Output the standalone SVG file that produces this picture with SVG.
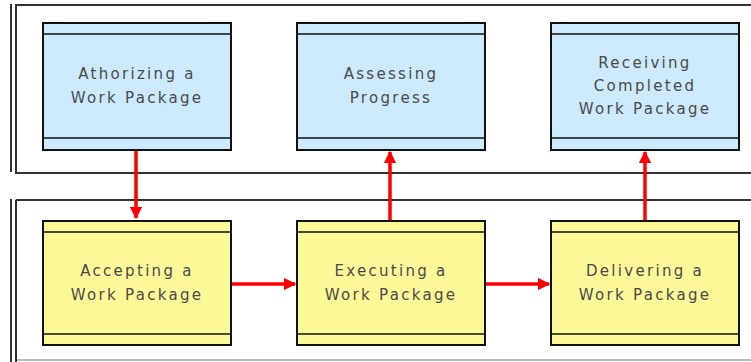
<svg xmlns="http://www.w3.org/2000/svg" width="751" height="362" viewBox="0 0 751 362">
<style>
.frame{fill:none;stroke:#333;stroke-width:2}
.box{stroke:#111;stroke-width:2}
.band{stroke:#111;stroke-width:1.5;fill:none}
.blue{fill:#cdeafc}
.yellow{fill:#fdf999}
.lbl{font-family:"DejaVu Sans",Verdana,sans-serif;font-size:15px;letter-spacing:2.3px;fill:#4a4a4a;text-anchor:middle}
.conn{stroke:#ff0000;stroke-width:3.5;fill:none}
</style>
<defs>
<marker id="ah" viewBox="0 0 10 10" refX="9" refY="5" markerWidth="3.6" markerHeight="3.6" orient="auto" markerUnits="strokeWidth">
<path d="M0,0 L10,5 L0,10 Z" fill="#ff0000"/>
</marker>
</defs>
<rect width="751" height="362" fill="#fff"/>
<g id="laneTop">
<line x1="11" y1="4" x2="11" y2="172" class="frame"/>
<path d="M760,5 H16 V173 H760" class="frame"/>
</g>
<g id="laneBottom">
<line x1="11" y1="199" x2="11" y2="362" class="frame"/>
<path d="M760,200 H16 V360 H760" class="frame" style="stroke:#bbb"/>
<line x1="16" y1="200" x2="760" y2="200" class="frame"/>
<line x1="16" y1="200" x2="16" y2="362" class="frame"/>
</g>
<g id="n1">
<rect x="43" y="23" width="188" height="127" class="box blue"/>
<path d="M43,34 H231 M43,138 H231" class="band"/>
<text class="lbl"><tspan x="137" y="79">Athorizing a</tspan><tspan x="137" y="103">Work Package</tspan></text>
</g>
<g id="n2">
<rect x="297" y="23" width="188" height="127" class="box blue"/>
<path d="M297,34 H485 M297,138 H485" class="band"/>
<text class="lbl"><tspan x="391" y="79">Assessing</tspan><tspan x="391" y="103">Progress</tspan></text>
</g>
<g id="n3">
<rect x="551" y="23" width="188" height="127" class="box blue"/>
<path d="M551,34 H739 M551,138 H739" class="band"/>
<text class="lbl"><tspan x="645" y="68">Receiving</tspan><tspan x="645" y="91">Completed</tspan><tspan x="645" y="114">Work Package</tspan></text>
</g>
<g id="n4">
<rect x="43" y="221" width="188" height="124" class="box yellow"/>
<path d="M43,232 H231 M43,334 H231" class="band"/>
<text class="lbl"><tspan x="137" y="276">Accepting a</tspan><tspan x="137" y="300">Work Package</tspan></text>
</g>
<g id="n5">
<rect x="297" y="221" width="188" height="124" class="box yellow"/>
<path d="M297,232 H485 M297,334 H485" class="band"/>
<text class="lbl"><tspan x="391" y="276">Executing a</tspan><tspan x="391" y="300">Work Package</tspan></text>
</g>
<g id="n6">
<rect x="551" y="221" width="188" height="124" class="box yellow"/>
<path d="M551,232 H739 M551,334 H739" class="band"/>
<text class="lbl"><tspan x="645" y="276">Delivering a</tspan><tspan x="645" y="300">Work Package</tspan></text>
</g>
<g id="connectors">
<line x1="136" y1="151" x2="136" y2="218" class="conn" marker-end="url(#ah)"/>
<line x1="390" y1="220" x2="390" y2="152" class="conn" marker-end="url(#ah)"/>
<line x1="645" y1="220" x2="645" y2="152" class="conn" marker-end="url(#ah)"/>
<line x1="232" y1="284" x2="295" y2="284" class="conn" marker-end="url(#ah)"/>
<line x1="486" y1="284" x2="549" y2="284" class="conn" marker-end="url(#ah)"/>
</g>
</svg>
